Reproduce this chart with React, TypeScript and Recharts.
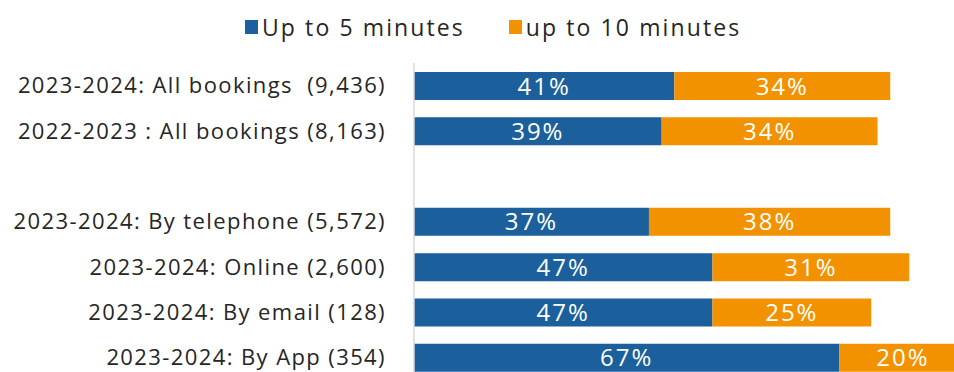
import { Bar, BarChart, LabelList, Legend, XAxis, YAxis } from "recharts";

const categories = [
  "2023-2024: All bookings\u00a0 (9,436)",
  "2022-2023 : All bookings (8,163)",
  "",
  "2023-2024: By telephone (5,572)",
  "2023-2024: Online (2,600)",
  "2023-2024: By email (128)",
  "2023-2024: By App (354)",
];
const upTo5 = [41, 39, null, 37, 47, 47, 67];
const upTo10 = [34, 34, null, 38, 31, 25, 20];

const BLUE = "#1B5F9C";
const ORANGE = "#F39200";
const FONT = "'Open Sans', sans-serif";

const data = categories.map((name, i) => ({
  name,
  upTo5: upTo5[i],
  upTo10: upTo10[i],
}));

const fmt = (v: unknown) => (v == null ? "" : `${v}%`);

function LegendContent() {
  const items = [
    { label: "Up to 5 minutes", color: BLUE },
    { label: "up to 10 minutes", color: ORANGE },
  ];
  return (
    <div
      style={{
        display: "flex",
        alignItems: "center",
        fontFamily: FONT,
        fontSize: 23,
        letterSpacing: 2.1,
        color: "#262626",
        whiteSpace: "nowrap",
      }}
    >
      {items.map((it) => (
        <div key={it.label} style={{ display: "flex", alignItems: "center", marginRight: 44 }}>
          <span style={{ width: 13, height: 14, background: it.color, marginRight: 4, display: "inline-block" }} />
          <span>{it.label}</span>
        </div>
      ))}
    </div>
  );
}

export default function App() {
  return (
    <div style={{ position: "fixed", left: 0, top: 0, width: 954, height: 372, overflow: "hidden", background: "#fff" }}>
      <BarChart
        width={1049}
        height={380}
        data={data}
        layout="vertical"
        margin={{ top: 23, right: 0, bottom: 0, left: 0 }}
      >
        <Legend
          verticalAlign="top"
          height={40}
          content={<LegendContent />}
          wrapperStyle={{ top: 11, left: 245, width: "auto" }}
        />
        <XAxis type="number" domain={[0, 100]} hide />
        <YAxis
          type="category"
          dataKey="name"
          width={414}
          axisLine={{ stroke: "#D9D9D9", strokeWidth: 1.5 }}
          tickLine={false}
          tickSize={0}
          tickMargin={28}
          interval={0}
          tick={{ fill: "#262626", fontSize: 22, fontFamily: FONT, letterSpacing: 1.4 }}
        />
        <Bar dataKey="upTo5" stackId="a" fill={BLUE} barSize={28} isAnimationActive={false}>
          <LabelList
            dataKey="upTo5"
            position="center"
            formatter={fmt}
            fill="#fff"
            fontSize={24}
            fontFamily={FONT}
            letterSpacing={2}
          />
        </Bar>
        <Bar dataKey="upTo10" stackId="a" fill={ORANGE} barSize={28} isAnimationActive={false}>
          <LabelList
            dataKey="upTo10"
            position="center"
            formatter={fmt}
            fill="#fff"
            fontSize={24}
            fontFamily={FONT}
            letterSpacing={2}
          />
        </Bar>
      </BarChart>
    </div>
  );
}
